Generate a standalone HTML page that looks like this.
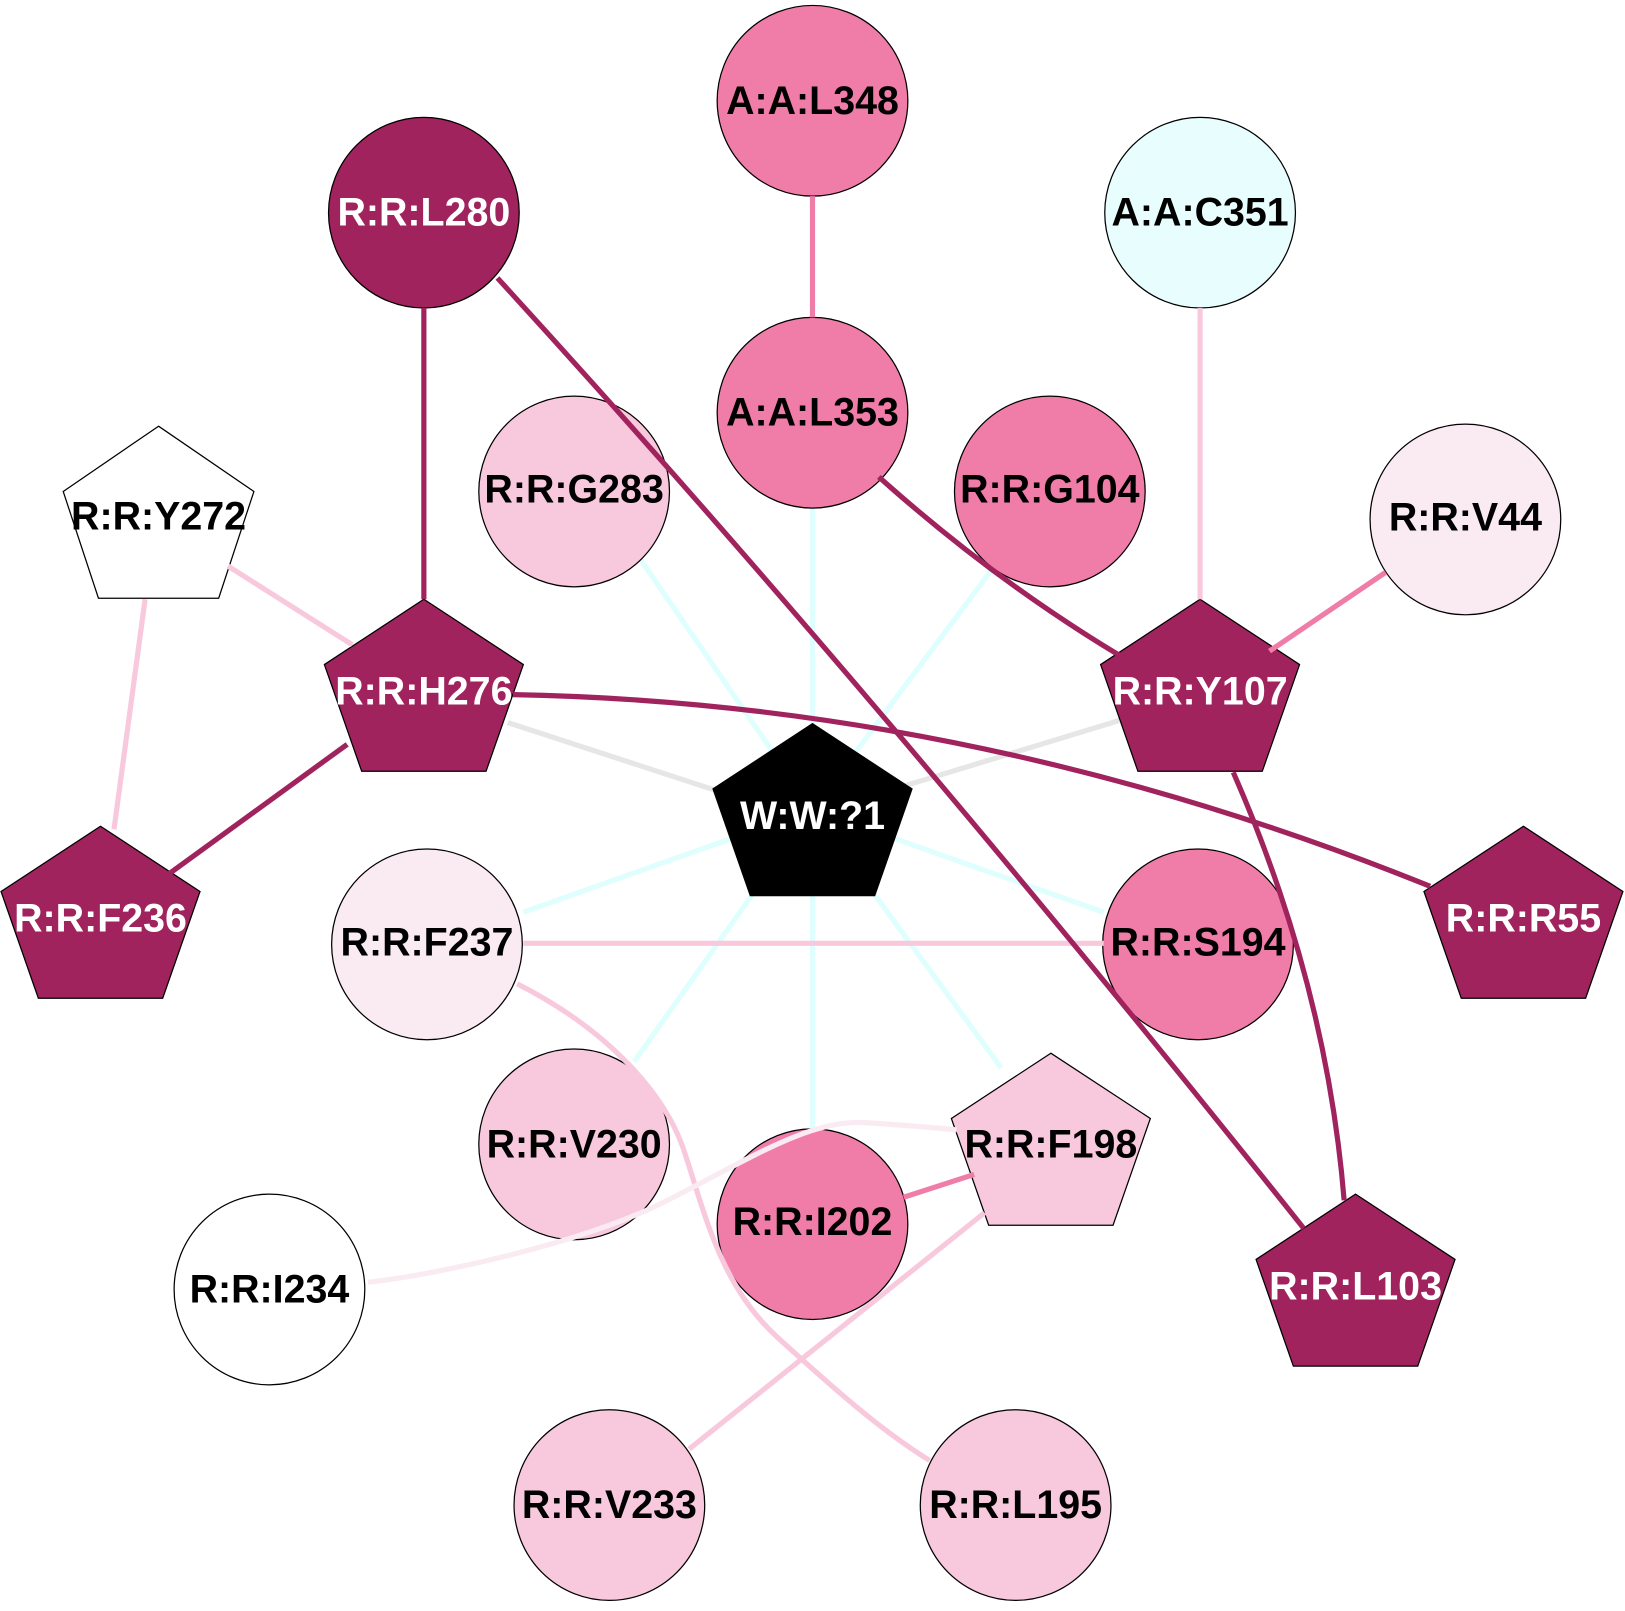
<!DOCTYPE html>
<html><head><meta charset="utf-8"><style>
html,body{margin:0;padding:0;background:#fff;}
svg{display:block;}
text{font-family:"Liberation Sans",Arial,sans-serif;font-weight:bold;font-size:38px;text-anchor:middle;dominant-baseline:central;}
</style></head><body>
<svg width="1625" height="1611" viewBox="0 0 1568 1554" xmlns="http://www.w3.org/2000/svg">
<g fill="none" stroke-width="5">
<g stroke="#DFFEFE">
<line x1="784" y1="781" x2="610" y2="528"/>
<line x1="784" y1="781" x2="784" y2="490"/>
<line x1="784" y1="781" x2="958" y2="548"/>
<line x1="784" y1="781" x2="505" y2="880"/>
<line x1="784" y1="781" x2="1065" y2="880"/>
<line x1="784" y1="781" x2="612" y2="1024"/>
<line x1="784" y1="781" x2="784" y2="1089"/>
<line x1="784" y1="781" x2="966" y2="1030"/>
</g>
<g stroke="#E6E6E6">
<line x1="490" y1="697" x2="720" y2="772"/>
<line x1="1080" y1="695" x2="850" y2="765"/>
</g>
</g>
<g stroke="#000" stroke-width="1.2">
<circle cx="784" cy="97" r="92" fill="#F07DA8"/>
<circle cx="409" cy="205" r="92" fill="#A0235E"/>
<circle cx="1158" cy="205" r="92" fill="#E8FEFE"/>
<circle cx="784" cy="398" r="92" fill="#F07DA8"/>
<circle cx="554" cy="474" r="92" fill="#F8C8DC"/>
<circle cx="1013" cy="474" r="92" fill="#F07DA8"/>
<circle cx="1414" cy="501" r="92" fill="#FAEAF2"/>
<circle cx="412" cy="911" r="92" fill="#FAEAF2"/>
<circle cx="1156" cy="911" r="92" fill="#F07DA8"/>
<circle cx="554" cy="1104" r="92" fill="#F8C8DC"/>
<circle cx="784" cy="1181" r="92" fill="#F07DA8"/>
<circle cx="260" cy="1244" r="92" fill="#FFFFFF"/>
<circle cx="588" cy="1452" r="92" fill="#F8C8DC"/>
<circle cx="980" cy="1452" r="92" fill="#F8C8DC"/>
<polygon transform="translate(153,411)" points="0,0 92,63 58,166 -58,166 -92,63" fill="#FFFFFF"/>
<polygon transform="translate(409,578)" points="0,0 96,63 60,166 -60,166 -96,63" fill="#A0235E"/>
<polygon transform="translate(1158,578)" points="0,0 96,63 60,166 -60,166 -96,63" fill="#A0235E"/>
<polygon transform="translate(784,698)" points="0,0 96,63 60,166 -60,166 -96,63" fill="#000000"/>
<polygon transform="translate(97,797)" points="0,0 96,63 60,166 -60,166 -96,63" fill="#A0235E"/>
<polygon transform="translate(1470,797)" points="0,0 96,63 60,166 -60,166 -96,63" fill="#A0235E"/>
<polygon transform="translate(1014,1016)" points="0,0 96,63 60,166 -60,166 -96,63" fill="#F8C8DC"/>
<polygon transform="translate(1308,1152)" points="0,0 96,63 60,166 -60,166 -96,63" fill="#A0235E"/>
</g>
<g fill="none" stroke-width="5">
<g stroke="#F8C8DC">
<line x1="1158" y1="297" x2="1158" y2="578"/>
<line x1="220" y1="546" x2="340" y2="622"/>
<line x1="140" y1="578" x2="110" y2="800"/>
<line x1="505" y1="910" x2="1065" y2="910"/>
<line x1="950" y1="1170" x2="665" y2="1398"/>
<path d="M499,949 C580,990 640,1050 660,1110 S695,1240 750,1290 S850,1380 897,1409"/>
</g>
<path stroke="#FAEAF2" d="M355,1237 C420,1230 560,1200 640,1160 S780,1080 833,1083 S900,1088 923,1090"/>
<g stroke="#F07DA8">
<line x1="784" y1="189" x2="784" y2="306"/>
<line x1="1337" y1="552" x2="1225" y2="628"/>
<line x1="872" y1="1155" x2="940" y2="1133"/>
</g>
<g stroke="#A0235E">
<line x1="409" y1="297" x2="409" y2="578"/>
<path d="M848,460 Q960,560 1080,632"/>
<line x1="335" y1="718" x2="163" y2="843"/>
<path d="M495,670 Q942,678 1380,855"/>
<path d="M1190,745 Q1280,950 1297,1158"/>
<path d="M480,268 Q851,674 1258,1185"/>
</g>
</g>
<g fill="#000">
<text x="784" y="97">A:A:L348</text>
<text x="1158" y="205">A:A:C351</text>
<text x="784" y="398">A:A:L353</text>
<text x="554" y="472">R:R:G283</text>
<text x="1013" y="472">R:R:G104</text>
<text x="1414" y="499">R:R:V44</text>
<text x="153" y="498">R:R:Y272</text>
<text x="412" y="909">R:R:F237</text>
<text x="1156" y="909">R:R:S194</text>
<text x="554" y="1104">R:R:V230</text>
<text x="1014" y="1104">R:R:F198</text>
<text x="784" y="1179">R:R:I202</text>
<text x="260" y="1244">R:R:I234</text>
<text x="588" y="1452">R:R:V233</text>
<text x="980" y="1452">R:R:L195</text>
</g>
<g fill="#fff">
<text x="409" y="205">R:R:L280</text>
<text x="409" y="667">R:R:H276</text>
<text x="1158" y="667">R:R:Y107</text>
<text x="784" y="787">W:W:?1</text>
<text x="97" y="886">R:R:F236</text>
<text x="1470" y="886">R:R:R55</text>
<text x="1308" y="1241">R:R:L103</text>
</g>
</svg>
</body></html>
